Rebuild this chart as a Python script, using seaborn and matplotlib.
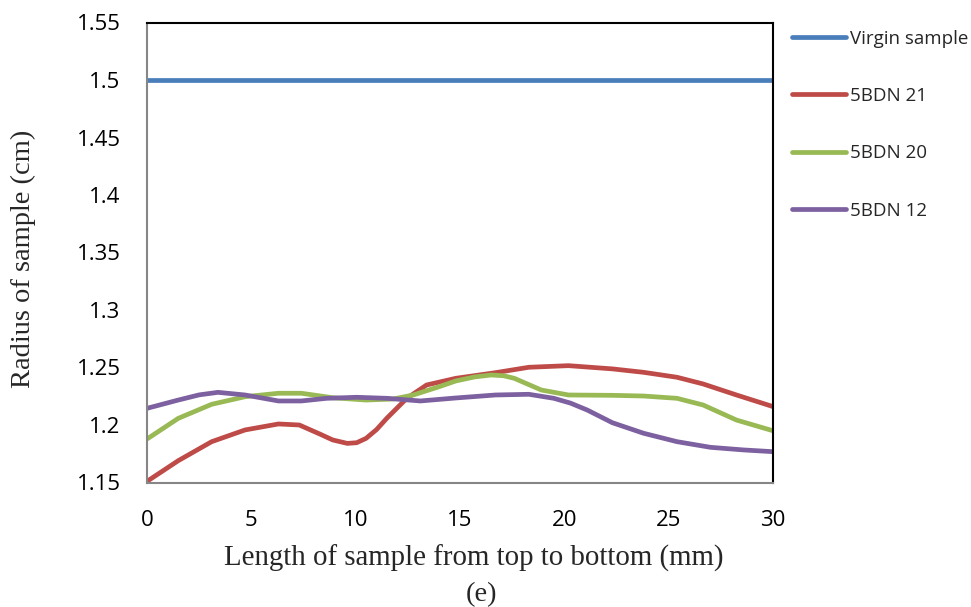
import matplotlib
matplotlib.use("Agg")
import matplotlib.pyplot as plt
import seaborn as sns
import pandas as pd
from matplotlib.lines import Line2D

# ---- data ----
virgin_x = [0, 30]
virgin_y = [1.5, 1.5]

red_x = [0, 1.5, 3.1, 4.7, 6.3, 7.3, 8.3, 8.9, 9.6, 10.05, 10.5, 11.0, 11.5, 12.45, 13.4, 14.8, 16.7, 18.3, 20.2, 22.3, 23.8, 25.4, 26.65, 28.25, 30]
red_y = [1.151, 1.169, 1.1855, 1.1957, 1.2009, 1.200, 1.192, 1.187, 1.184, 1.1846, 1.1884, 1.196, 1.206, 1.2232, 1.2348, 1.2406, 1.2455, 1.2502, 1.2516, 1.2488, 1.2458, 1.2415, 1.2357, 1.2261, 1.216]

green_x = [0, 1.5, 3.1, 4.7, 6.3, 7.4, 8.9, 10.5, 11.8, 12.76, 14.0, 14.8, 15.7, 16.5, 17.1, 17.6, 18.9, 20.2, 22.3, 23.8, 25.4, 26.65, 28.25, 30]
green_y = [1.1878, 1.2058, 1.218, 1.2246, 1.2276, 1.2276, 1.2237, 1.2217, 1.2226, 1.2261, 1.2333, 1.2383, 1.2418, 1.2435, 1.2428, 1.2406, 1.2304, 1.2261, 1.2258, 1.2252, 1.2232, 1.2174, 1.2043, 1.195]

purple_x = [0, 1.5, 2.5, 3.4, 4.7, 6.3, 7.4, 8.6, 10.05, 11.5, 13.1, 14.8, 16.7, 18.3, 19.5, 20.3, 21.1, 22.3, 23.8, 25.4, 27.0, 28.6, 30]
purple_y = [1.2145, 1.2217, 1.2262, 1.2284, 1.2261, 1.2209, 1.2209, 1.2232, 1.2241, 1.2232, 1.2209, 1.2235, 1.2261, 1.2267, 1.2232, 1.2190, 1.213, 1.202, 1.1928, 1.1855, 1.1806, 1.1783, 1.1768]

series_names = ["Virgin sample", "5BDN 21", "5BDN 20", "5BDN 12"]
colors = ["#4A7EBB", "#BE4B48", "#98B954", "#7D60A0"]

x_ticks = [0, 5, 10, 15, 20, 25, 30]
y_ticks = [1.15, 1.2, 1.25, 1.3, 1.35, 1.4, 1.45, 1.5, 1.55]
y_tick_labels = ["1.15", "1.2", "1.25", "1.3", "1.35", "1.4", "1.45", "1.5", "1.55"]

frames = []
for name, xs, ys in zip(series_names,
                        [virgin_x, red_x, green_x, purple_x],
                        [virgin_y, red_y, green_y, purple_y]):
    frames.append(pd.DataFrame({"x": xs, "y": ys, "series": name}))
df = pd.concat(frames, ignore_index=True)

sns.set_theme(style="white")
plt.rcParams["font.family"] = ["Open Sans", "DejaVu Sans"]

fig = plt.figure(figsize=(9.71, 6.07), dpi=100)
ax = fig.add_axes([147 / 971, 1 - 482.5 / 607, (773 - 147) / 971, (482.5 - 22.5) / 607])

sns.lineplot(data=df, x="x", y="y", hue="series", hue_order=series_names,
             palette=colors, linewidth=3.4, sort=False, estimator=None,
             ax=ax, legend=False)
for ln in ax.get_lines():
    ln.set_solid_joinstyle("round")
    ln.set_solid_capstyle("butt")

ax.set_xlim(0, 30)
ax.set_ylim(1.15, 1.55)
ax.set_xticks(x_ticks)
ax.set_xticklabels([str(t) for t in x_ticks])
ax.set_yticks(y_ticks)
ax.set_yticklabels(y_tick_labels)

for side in ["left", "bottom"]:
    ax.spines[side].set_color("#868686")
    ax.spines[side].set_linewidth(1.5)
for side in ["top", "right"]:
    ax.spines[side].set_color("black")
    ax.spines[side].set_linewidth(1.5)
    ax.spines[side].set_visible(True)

ax.tick_params(axis="both", direction="in", length=6, width=1.2, color="#868686",
               labelsize=16, labelcolor="black")
ax.tick_params(axis="x", pad=20)
ax.tick_params(axis="y", pad=19)

ax.set_xlabel("Length of sample from top to bottom (mm)", family="Liberation Serif",
              fontsize=20.8, labelpad=4)
ax.xaxis.set_label_coords((473.5 - 147) / 626, -(545 - 482.5) / 460)
ax.xaxis.label.set_va("top")
ax.set_ylabel("Radius of sample (cm)", family="Liberation Serif", fontsize=20.5, labelpad=27)
ax.yaxis.set_label_coords(-(147 - 23) / 626, (482.5 - 259) / 460)
ax.yaxis.label.set_va("center")

fig.text(481 / 971, 1 - 595 / 607, "(e)", family="Liberation Serif", fontsize=20.5,
         ha="center", va="center")

handles = [Line2D([], [], color=c, linewidth=3.4, solid_capstyle="round") for c in colors]
leg = fig.legend(handles, series_names, loc="upper left",
                 bbox_to_anchor=(792 / 971, 1 - 29.5 / 607), frameon=False,
                 fontsize=13.5, handlelength=2.88, handletextpad=0.2,
                 labelspacing=2.1, borderaxespad=0, borderpad=0)

fig.savefig("out.png", dpi=100, facecolor="white")
